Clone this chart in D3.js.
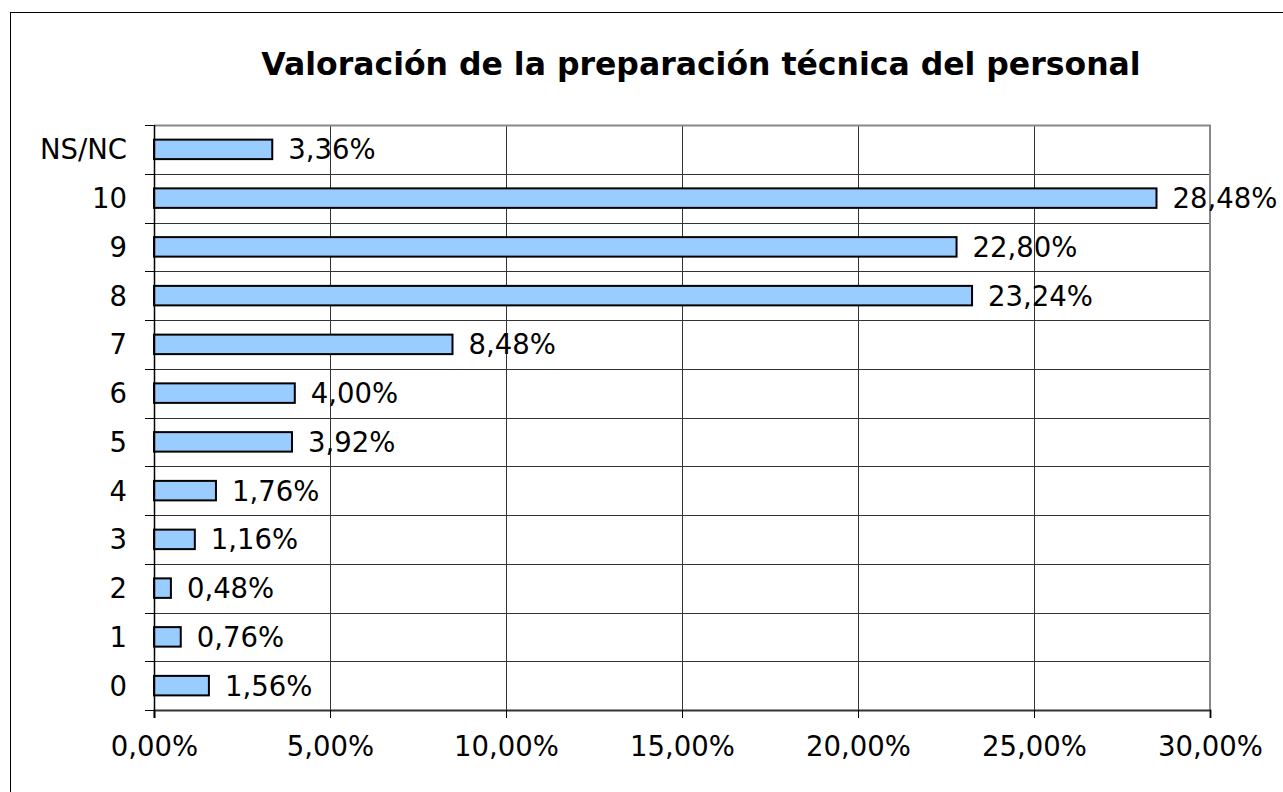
<!DOCTYPE html>
<html>
<head>
    <meta charset="utf-8">
    <title></title>
    <script src="https://d3js.org/d3.v7.min.js"></script>
    <style>
        body { margin: 0; background: #fff; }
        text { font-family: "DejaVu Sans", Verdana, sans-serif; fill: #000; }
    </style>
</head>
<body>
<svg id="chart"></svg>
<script>
    var width = 1283;
    var height = 792;

    var title = "Valoración de la preparación técnica del personal";
    var categories = ["NS/NC", "10", "9", "8", "7", "6", "5", "4", "3", "2", "1", "0"];
    var values = [3.36, 28.48, 22.80, 23.24, 8.48, 4.00, 3.92, 1.76, 1.16, 0.48, 0.76, 1.56];
    var xTicks = [0, 5, 10, 15, 20, 25, 30];

    var margin = { left: 154, right: 73, top: 125, bottom: 82 };
    var plotW = width - margin.left - margin.right;
    var plotH = height - margin.top - margin.bottom;
    var fs = 27.5;

    function fmt(v) { return v.toFixed(2).replace(".", ",") + "%"; }

    var svg = d3.select("#chart")
        .attr("width", width)
        .attr("height", height);

    // outer frame (only top/left visible)
    svg.append("rect")
        .attr("x", 10.5).attr("y", 12.5)
        .attr("width", width).attr("height", height)
        .attr("fill", "none").attr("stroke", "#000").attr("stroke-width", 1);

    svg.append("text")
        .attr("x", 701).attr("y", 75)
        .attr("text-anchor", "middle")
        .attr("font-size", 31.5).attr("font-weight", "bold")
        .text(title);

    var x = d3.scaleLinear().domain([0, 30]).range([0, plotW]);
    var y = d3.scaleBand().domain(categories).range([0, plotH]).paddingInner(0).paddingOuter(0);

    var g = svg.append("g").attr("transform", "translate(" + margin.left + "," + margin.top + ")");

    // vertical gridlines
    g.selectAll(".vgrid").data(xTicks.slice(1, -1)).enter().append("line")
        .attr("x1", function(d) { return Math.round(x(d)) + 0.5; })
        .attr("x2", function(d) { return Math.round(x(d)) + 0.5; })
        .attr("y1", 0).attr("y2", plotH)
        .attr("stroke", "#333").attr("stroke-width", 1);

    // horizontal gridlines at category boundaries
    g.selectAll(".hgrid").data(categories.slice(1)).enter().append("line")
        .attr("x1", 0).attr("x2", plotW)
        .attr("y1", function(d) { return Math.round(y(d)) + 0.5; })
        .attr("y2", function(d) { return Math.round(y(d)) + 0.5; })
        .attr("stroke", "#333").attr("stroke-width", 1);

    // plot border top/right (gray)
    g.append("path")
        .attr("d", "M0,0.5H" + plotW + "V" + plotH)
        .attr("fill", "none").attr("stroke", "#888").attr("stroke-width", 2);

    // bars
    var barH = y.bandwidth() * 0.4;
    g.selectAll(".bar").data(values).enter().append("rect")
        .attr("x", 0)
        .attr("y", function(d, i) { return y(categories[i]) + (y.bandwidth() - barH) / 2; })
        .attr("width", function(d) { return x(d); })
        .attr("height", barH)
        .attr("fill", "#99ccff")
        .attr("stroke", "#000")
        .attr("stroke-width", 2);

    // value labels
    g.selectAll(".lbl").data(values).enter().append("text")
        .attr("x", function(d) { return x(d) + 16; })
        .attr("y", function(d, i) { return y(categories[i]) + y.bandwidth() / 2 + 10; })
        .attr("font-size", fs)
        .text(function(d) { return fmt(d); });

    // x axis
    var xAxis = g.append("g").attr("transform", "translate(0," + plotH + ")")
        .call(d3.axisBottom(x).tickValues(xTicks).tickSize(8).tickPadding(18)
            .tickFormat(function(d) { return fmt(d); }));
    xAxis.select(".domain").attr("stroke", "#333").attr("stroke-width", 2);
    xAxis.selectAll(".tick line").attr("stroke", "#000");
    xAxis.selectAll(".tick text").attr("font-size", fs).attr("font-family", "DejaVu Sans").attr("fill", "#000");

    // y axis: ticks at category boundaries
    g.append("line").attr("x1", 0.5).attr("x2", 0.5).attr("y1", 0).attr("y2", plotH + 8)
        .attr("stroke", "#000").attr("stroke-width", 1.5);
    var bounds = categories.map(function(c) { return y(c); }).concat([plotH]);
    g.selectAll(".ytick").data(bounds).enter().append("line")
        .attr("x1", -9).attr("x2", 0)
        .attr("y1", function(d) { return Math.round(d) + 0.5; })
        .attr("y2", function(d) { return Math.round(d) + 0.5; })
        .attr("stroke", "#000").attr("stroke-width", 1);

    g.selectAll(".ylbl").data(categories).enter().append("text")
        .attr("x", -27)
        .attr("y", function(d) { return y(d) + y.bandwidth() / 2 + 10; })
        .attr("text-anchor", "end")
        .attr("font-size", fs)
        .text(function(d) { return d; });
</script>
</body>
</html>
